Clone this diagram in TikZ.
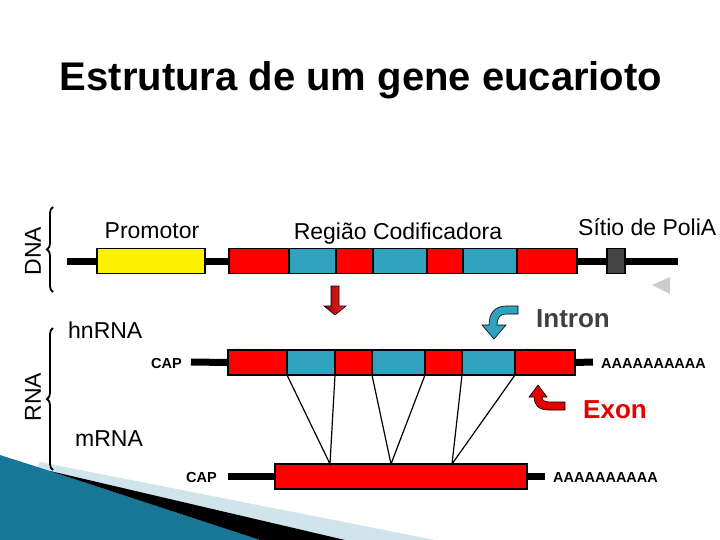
\documentclass[tikz,border=0pt]{standalone}
\usepackage{fontspec}
\setmainfont{Liberation Sans}
\usetikzlibrary{positioning, decorations.pathreplacing}

\definecolor{exonred}{RGB}{255,0,0}
\definecolor{intronblue}{RGB}{49,161,192}
\definecolor{polygrey}{RGB}{68,68,68}
\definecolor{introngrey}{RGB}{64,64,64}
\definecolor{swooshdark}{RGB}{24,118,150}
\definecolor{swooshmid}{RGB}{84,178,212}
\definecolor{swooshlight}{RGB}{208,228,236}

\begin{document}
\begin{tikzpicture}[x = 1pt, y = -1pt,
	segment/.style = {draw, line width = 1.5pt, inner sep = 0pt, outer sep = 0pt, minimum height = 25pt},
	exon/.style = {segment, fill = exonred},
	intron/.style = {segment, fill = intronblue},
	strand/.style = {line width = 7pt},
	bigtext/.style = {font = \fontsize{23}{27}\selectfont, inner sep = 0pt},
	smalltext/.style = {font = \bfseries\fontsize{14.5}{16}\selectfont, inner sep = 0pt},
	curly/.style = {decorate, decoration = {brace, amplitude = 6pt}, line width = 1.8pt},
	splice/.style = {line width = 1.2pt}]

	\useasboundingbox (0, 0) rectangle (720, 540);

	% Swoosh in the lower left corner

	\fill [swooshlight] (40, 462) -- (435, 540) -- (0, 540) -- cycle;
	\shade [left color = swooshdark, middle color = swooshmid, right color = swooshdark] (0, 455) -- (50, 471) -- (260, 540) -- (0, 540) -- cycle;
	\fill (50, 471) -- (345, 540) -- (260, 540) -- cycle;

	% Title

	\node [font = \bfseries\fontsize{40}{48}\selectfont, anchor = base] (title) at (361, 91) {Estrutura de um gene eucarioto};

	% DNA

	\coordinate (dnaL) at (67, 261);
	\coordinate (dnaR) at (678, 261);
	\draw [strand] (dnaL) -- (dnaR);

	\node [segment, fill = yellow, minimum width = 108pt] (prom) at (151, 261) {};
	\node [exon, minimum width = 60pt, anchor = west] (d1) at (229, 261) {};
	\node [intron, minimum width = 47pt, right = 0pt of d1] (d2) {};
	\node [exon, minimum width = 37pt, right = 0pt of d2] (d3) {};
	\node [intron, minimum width = 54pt, right = 0pt of d3] (d4) {};
	\node [exon, minimum width = 36pt, right = 0pt of d4] (d5) {};
	\node [intron, minimum width = 54pt, right = 0pt of d5] (d6) {};
	\node [exon, minimum width = 60pt, right = 0pt of d6] (d7) {};
	\node [segment, fill = polygrey, minimum width = 18pt] (polyA) at (616, 261) {};

	\node [bigtext, anchor = base] (promtxt) at (152, 238) {Promotor};
	\node [bigtext, anchor = base] (codtxt) at (398, 240) {Região Codificadora};
	\node [bigtext, anchor = base west] (polytxt) at (578, 236) {Sítio de PoliA};

	\fill [gray!40] (652, 285) -- (670, 277) -- (670, 294) -- cycle;

	% Transcription

	\shadedraw [left color = red!60!black, right color = red!85, line width = 0.6pt] (331, 286) -- (339, 286) -- (339, 306) -- (346, 306) -- (335, 315) -- (324, 306) -- (331, 306) -- cycle;

	% hnRNA

	\coordinate (hnL) at (191, 362);
	\coordinate (hnR) at (593, 362);

	\node [exon, minimum width = 59pt, anchor = west] (h1) at (228, 362.5) {};
	\node [intron, minimum width = 48pt, right = 0pt of h1] (h2) {};
	\node [exon, minimum width = 37pt, right = 0pt of h2] (h3) {};
	\node [intron, minimum width = 53pt, right = 0pt of h3] (h4) {};
	\node [exon, minimum width = 37pt, right = 0pt of h4] (h5) {};
	\node [intron, minimum width = 53pt, right = 0pt of h5] (h6) {};
	\node [exon, minimum width = 60pt, right = 0pt of h6] (h7) {};

	\draw [strand] (hnL) -- (h1.west);
	\draw [strand] (h7.east) -- (hnR);

	\node [bigtext, anchor = base west] (hntxt) at (68, 338) {hnRNA};
	\node [smalltext, anchor = base east] (cap1) at (182, 368) {CAP};
	\node [smalltext, anchor = base west] (tail1) at (601, 368) {AAAAAAAAAA};

	% Intron and exon pointers

	\filldraw [fill = intronblue, line width = 0.6pt] (518, 306) -- (506, 306) .. controls (495, 306) and (489, 313) .. (489, 325) -- (482, 325) -- (494, 339) -- (506, 325) -- (497, 325) .. controls (497, 318) and (500, 314) .. (506, 314) -- (518, 314) -- cycle;
	\node [font = \bfseries\fontsize{26}{30}\selectfont, text = introngrey, inner sep = 0pt, anchor = base west] (introntxt) at (536, 327) {Intron};

	\filldraw [fill = red!90!black, line width = 0.6pt] (538, 385) -- (547, 397) -- (542, 397) .. controls (542, 400) and (544, 402) .. (550, 402) -- (565, 402) -- (565, 410) -- (548, 410) .. controls (538, 410) and (534, 404) .. (534, 397) -- (529, 397) -- cycle;
	\node [font = \bfseries\fontsize{26}{30}\selectfont, text = red!90!black, inner sep = 0pt, anchor = base west] (exontxt) at (583, 418) {Exon};

	% mRNA

	\coordinate (mL) at (228, 476.5);
	\coordinate (mR) at (545, 476.5);
	\node [exon, minimum width = 252pt] (m) at (401, 476.5) {};
	\draw [strand] (mL) -- (m.west);
	\draw [strand] (m.east) -- (mR);

	\node [bigtext, anchor = base west] (mtxt) at (75, 446) {mRNA};
	\node [smalltext, anchor = base east] (cap2) at (217, 482) {CAP};
	\node [smalltext, anchor = base west] (tail2) at (553, 482) {AAAAAAAAAA};

	% Splicing

	\coordinate (j1) at (330, 464);
	\coordinate (j2) at (391, 464);
	\coordinate (j3) at (452, 464);
	\draw [splice] (h1.south east) -- (j1) -- (h2.south east);
	\draw [splice] (h3.south east) -- (j2) -- (h4.south east);
	\draw [splice] (h5.south east) -- (j3) -- (h6.south east);

	% Braces

	\draw [curly] (53, 292) -- (53, 207);
	\draw [curly] (53, 470) -- (53, 328);
	\node [bigtext, rotate = 90] (dnatxt) at (33, 251) {DNA};
	\node [bigtext, rotate = 90] (rnatxt) at (33, 397) {RNA};

\end{tikzpicture}
\end{document}
